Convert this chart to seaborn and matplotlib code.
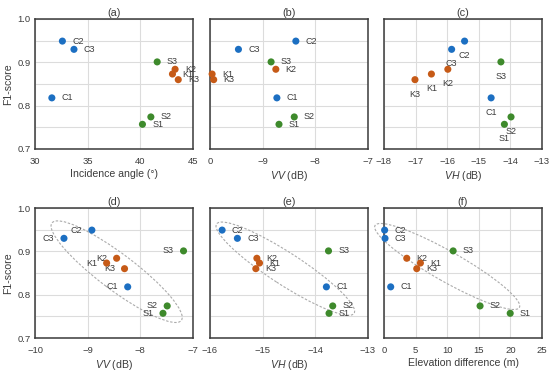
import pandas as pd
import seaborn as sns
import matplotlib.pyplot as plt
import matplotlib.transforms as mtransforms
from matplotlib.patches import Ellipse

# site names, groups and F1-scores (same in every panel)
names = ["C1", "C2", "C3", "K1", "K2", "K3", "S1", "S2", "S3"]
groups = ["C", "C", "C", "K", "K", "K", "S", "S", "S"]
f1_score = [0.818, 0.949, 0.930, 0.873, 0.884, 0.860, 0.757, 0.774, 0.901]

# x values
incidence_angle = [31.6, 32.6, 33.7, 43.05, 43.3, 43.6, 40.2, 41.0, 41.6]
vv_b = [-8.73, -8.37, -9.46, -9.96, -8.75, -9.93, -8.69, -8.40, -8.84]
vh_c = [-14.61, -15.45, -15.86, -16.50, -15.98, -17.02, -14.19, -13.98, -14.30]
vv_d = [-8.24, -8.92, -9.45, -8.64, -8.45, -8.30, -7.57, -7.49, -7.18]
vh_e = [-13.79, -15.77, -15.48, -15.06, -15.11, -15.13, -13.74, -13.67, -13.75]
elev_diff = [1.06, 0.1, 0.16, 5.76, 3.6, 5.18, 19.97, 15.2, 10.94]

# axis ticks / labels
ticks_a = [30, 35, 40, 45]
ticks_b = [-10, -9, -8, -7]
ticklabels_b = ["0", "\u22129", "\u22128", "\u22127"]
ticks_c = [-18, -17, -16, -15, -14, -13]
ticks_d = [-10, -9, -8, -7]
ticks_e = [-16, -15, -14, -13]
ticks_f = [0, 5, 10, 15, 20, 25]

palette = {"C": "#1c6fc2", "K": "#c65a17", "S": "#3e8a2c"}
text_col = "#3c3c3c"

sns.set_theme(style="white")
plt.rcParams["font.family"] = ["Liberation Sans", "DejaVu Sans"]
plt.rcParams["mathtext.fontset"] = "custom"
plt.rcParams["mathtext.it"] = "Liberation Sans:italic"
plt.rcParams["mathtext.rm"] = "Liberation Sans"

fig = plt.figure(figsize=(5.5, 3.72), dpi=100)

W, H = 550, 372
col_left = [35, 210, 384]
row_top = [19, 208]
ax_w, ax_h = 158, 130

panels = [
    # x data, ticks, tick labels, xlabel, title, label side, ellipse
    (incidence_angle, ticks_a, None, "Incidence angle (\u00b0)", "(a)", "right", None),
    (vv_b, ticks_b, ticklabels_b, "$VV$ (dB)", "(b)", "right", None),
    (vh_c, ticks_c, None, "$VH$ (dB)", "(c)", "below", None),
    (vv_d, ticks_d, None, "$VV$ (dB)", "(d)", "left", ((-8.45, 0.853), 81, 18, -37)),
    (vh_e, ticks_e, None, "$VH$ (dB)", "(e)", "right", ((-14.57, 0.860), 82, 16, -33)),
    (elev_diff, ticks_f, None, "Elevation difference (m)", "(f)", "right", ((10.0, 0.865), 83, 15, -29.6)),
]

for i, (xs, ticks, tlabels, xlabel, title, side, ell) in enumerate(panels):
    r, c = divmod(i, 3)
    ax = fig.add_axes([col_left[c] / W, 1 - (row_top[r] + ax_h) / H, ax_w / W, ax_h / H])
    df = pd.DataFrame({"x": xs, "F1": f1_score, "group": groups, "name": names})
    sns.scatterplot(data=df, x="x", y="F1", hue="group", palette=palette, s=26,
                    linewidth=0, legend=False, ax=ax, zorder=3, clip_on=False)

    for _, row in df.iterrows():
        if side == "right":
            kw = dict(xytext=(7, 0), ha="left", va="center")
        elif side == "left":
            kw = dict(xytext=(-7, 0), ha="right", va="center")
        else:
            kw = dict(xytext=(0, -10.5), ha="center", va="center")
        ax.annotate(row["name"], (row["x"], row["F1"]), textcoords="offset points",
                    fontsize=6.5, color=text_col, zorder=2, **kw)

    if ell is not None:
        (cx, cy), a, b, ang = ell
        trans = fig.dpi_scale_trans + mtransforms.ScaledTranslation(cx, cy, ax.transData)
        e = Ellipse((0, 0), 2 * a / 100, 2 * b / 100, angle=ang, transform=trans,
                    fill=False, edgecolor="#ababab", linewidth=0.8,
                    linestyle=(0, (2.2, 1.5)), clip_on=False, zorder=1)
        ax.add_patch(e)

    ax.set_xlim(ticks[0], ticks[-1])
    ax.set_ylim(0.7, 1.0)
    ax.set_xticks(ticks)
    if tlabels is not None:
        ax.set_xticklabels(tlabels)
    else:
        ax.set_xticklabels([f"{t:g}".replace("-", "\u2212") for t in ticks])
    ax.set_yticks([0.7, 0.8, 0.9, 1.0])
    ax.set_yticks([0.75, 0.85, 0.95], minor=True)
    ax.grid(True, which="both", axis="y", color="#dcdcdc", linewidth=0.8)
    ax.grid(True, which="major", axis="x", color="#dcdcdc", linewidth=0.8)
    ax.set_axisbelow(True)
    ax.tick_params(axis="x", which="both", length=0, labelsize=6.8,
                   labelcolor=text_col, pad=5.5)
    ax.tick_params(axis="y", which="both", length=0, labelsize=6.8,
                   labelcolor=text_col, pad=3)
    if c == 0:
        ax.set_yticklabels(["0.7", "0.8", "0.9", "1.0"])
        ax.set_ylabel("F1-score", fontsize=7.6, color=text_col, labelpad=3.5)
    else:
        ax.set_yticklabels([])
        ax.set_ylabel("")
    ax.set_xlabel(xlabel, fontsize=7.6, color=text_col, labelpad=2.5)
    ax.set_title(title, fontsize=7.8, color=text_col, pad=2.5)
    for sp in ax.spines.values():
        sp.set_color("#3a3a3a")
        sp.set_linewidth(1.1)
        sp.set_visible(True)

fig.savefig("out.png", dpi=100)
